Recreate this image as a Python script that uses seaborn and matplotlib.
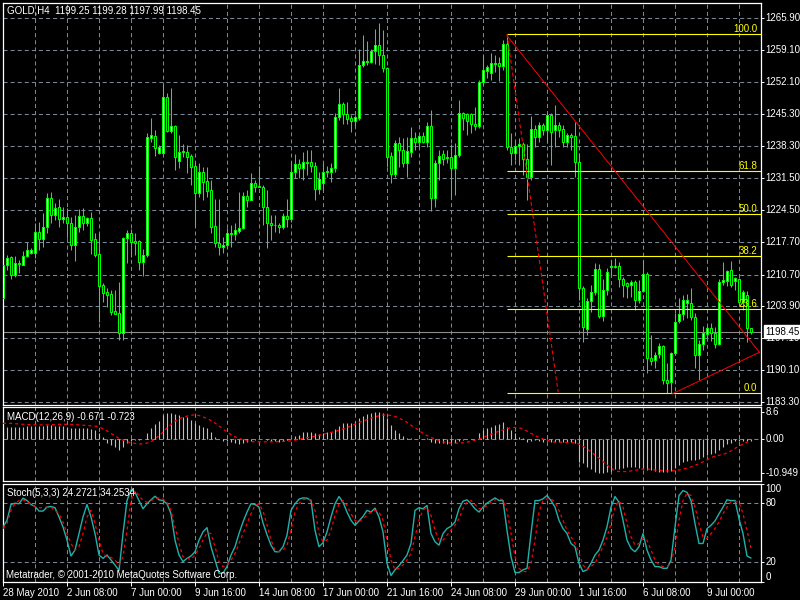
import matplotlib
matplotlib.use('Agg')
import matplotlib.pyplot as plt
import matplotlib.transforms as mtransforms
import numpy as np
import pandas as pd
import seaborn as sns

# --------------------------------------------------------------------------
# data (GOLD H4, one value per bar)
# --------------------------------------------------------------------------
opens = [
    1205.7, 1212.8, 1214.5, 1210.6, 1213.2, 1212.8, 1214.7, 1215.3, 1215.3, 1219.9,
    1218.4, 1220.9, 1227.2, 1223.5, 1225.2, 1222.7, 1223.1, 1221.8, 1217.1, 1220.9,
    1223.3, 1221.8, 1222.9, 1218.4, 1215.1, 1208.5, 1207.0, 1206.5, 1202.9, 1202.4,
    1198.1, 1218.6, 1219.6, 1217.9, 1217.9, 1213.4, 1214.9, 1240.1, 1240.5, 1236.9,
    1236.9, 1248.9, 1241.6, 1242.7, 1235.1, 1237.1, 1237.1, 1236.2, 1234.1, 1228.3,
    1232.8, 1230.8, 1228.9, 1221.2, 1217.5, 1216.6, 1217.1, 1219.4, 1219.4, 1220.1,
    1220.7, 1227.6, 1226.7, 1230.4, 1229.5, 1229.5, 1225.2, 1221.8, 1221.4, 1221.4,
    1220.9, 1223.3, 1222.7, 1232.8, 1234.5, 1233.6, 1234.9, 1234.9, 1234.1, 1229.1,
    1230.4, 1232.8, 1232.8, 1233.6, 1244.6, 1247.4, 1245.2, 1244.4, 1243.7, 1244.4,
    1255.8, 1256.4, 1256.4, 1258.8, 1260.1, 1257.9, 1255.1, 1236.2, 1232.3, 1239.0,
    1237.5, 1234.7, 1237.1, 1240.1, 1239.2, 1240.5, 1239.2, 1242.7, 1227.2, 1234.7,
    1236.6, 1235.8, 1236.0, 1233.6, 1236.4, 1245.5, 1245.2, 1245.2, 1243.1, 1242.7,
    1252.1, 1254.5, 1254.1, 1256.0, 1256.2, 1255.6, 1260.3, 1238.2, 1236.9, 1238.4,
    1238.8, 1235.6, 1231.7, 1242.0, 1240.3, 1242.9, 1241.8, 1245.0, 1241.8, 1242.9,
    1242.0, 1239.2, 1240.7, 1240.5, 1234.9, 1207.8, 1199.0, 1205.0, 1207.0, 1211.9,
    1201.8, 1207.4, 1212.3, 1212.6, 1212.6, 1209.8, 1208.9, 1208.5, 1209.1, 1205.2,
    1207.2, 1210.8, 1192.8, 1192.3, 1193.6, 1195.3, 1188.0, 1187.6, 1193.8, 1200.7,
    1202.2, 1204.6, 1204.6, 1201.6, 1193.4, 1195.8, 1197.9, 1199.2, 1198.1, 1195.8,
    1209.1, 1209.3, 1211.7, 1209.3, 1209.8, 1204.8, 1206.3, 1199.25,
]
highs = [
    1213.4, 1214.9, 1214.7, 1214.7, 1213.8, 1215.8, 1217.7, 1216.4, 1221.8, 1222.0,
    1224.0, 1228.3, 1228.5, 1226.1, 1227.0, 1225.2, 1225.0, 1223.1, 1223.5, 1224.8,
    1225.0, 1223.1, 1224.2, 1219.6, 1219.6, 1208.9, 1207.8, 1207.4, 1207.4, 1209.1,
    1218.8, 1220.3, 1220.5, 1219.6, 1218.1, 1216.2, 1241.2, 1244.4, 1241.8, 1238.6,
    1251.7, 1249.8, 1250.8, 1242.9, 1240.7, 1238.8, 1238.6, 1236.6, 1234.9, 1234.7,
    1233.8, 1233.8, 1231.1, 1227.0, 1227.0, 1218.8, 1220.7, 1221.4, 1221.8, 1228.5,
    1228.5, 1228.9, 1232.6, 1231.0, 1234.1, 1230.0, 1228.9, 1223.5, 1223.5, 1221.8,
    1224.0, 1227.0, 1234.9, 1236.6, 1235.6, 1237.1, 1237.5, 1237.5, 1234.9, 1232.8,
    1234.7, 1234.1, 1234.7, 1245.5, 1250.8, 1247.8, 1247.8, 1245.0, 1245.0, 1259.2,
    1262.2, 1260.9, 1259.2, 1263.5, 1264.8, 1263.3, 1255.4, 1237.1, 1239.7, 1240.3,
    1240.1, 1240.3, 1242.5, 1241.4, 1240.7, 1241.4, 1243.5, 1246.1, 1235.4, 1237.5,
    1237.5, 1237.5, 1238.8, 1239.0, 1248.3, 1245.7, 1245.5, 1245.5, 1246.8, 1252.6,
    1258.0, 1255.8, 1258.4, 1258.0, 1257.5, 1261.2, 1262.5, 1241.2, 1239.7, 1240.1,
    1239.2, 1238.8, 1244.8, 1242.9, 1243.5, 1243.3, 1245.5, 1245.5, 1247.2, 1243.5,
    1242.9, 1241.2, 1241.2, 1243.5, 1236.9, 1208.3, 1205.7, 1208.5, 1213.2, 1213.0,
    1209.8, 1212.1, 1213.8, 1214.3, 1213.4, 1210.2, 1209.1, 1209.5, 1209.5, 1209.5,
    1213.8, 1211.3, 1197.7, 1194.0, 1196.0, 1195.6, 1191.7, 1194.0, 1202.4, 1205.7,
    1206.3, 1206.5, 1207.8, 1202.4, 1196.6, 1199.6, 1199.6, 1200.3, 1199.4, 1209.8,
    1213.4, 1211.7, 1213.6, 1210.2, 1210.0, 1207.4, 1207.2, 1199.28,
]
lows = [
    1202.0, 1211.7, 1209.8, 1210.2, 1211.0, 1212.8, 1214.5, 1215.1, 1214.3, 1216.0,
    1216.6, 1219.6, 1221.8, 1222.4, 1220.9, 1221.8, 1218.6, 1216.0, 1213.6, 1219.9,
    1220.3, 1221.2, 1215.1, 1214.5, 1200.5, 1204.8, 1203.7, 1202.0, 1202.2, 1196.6,
    1196.6, 1213.2, 1214.5, 1214.9, 1211.7, 1210.4, 1214.5, 1239.2, 1236.2, 1236.6,
    1236.6, 1241.4, 1241.2, 1233.2, 1233.6, 1236.0, 1232.6, 1230.0, 1220.9, 1227.4,
    1226.7, 1227.4, 1219.6, 1216.6, 1214.9, 1215.3, 1216.4, 1216.6, 1218.1, 1219.6,
    1220.5, 1225.2, 1226.7, 1228.5, 1229.5, 1221.4, 1216.4, 1218.1, 1219.9, 1219.6,
    1220.5, 1220.9, 1222.0, 1231.5, 1231.5, 1231.0, 1232.1, 1232.8, 1226.7, 1228.0,
    1228.9, 1231.7, 1230.6, 1232.8, 1244.0, 1243.1, 1243.1, 1241.4, 1242.7, 1244.0,
    1255.4, 1255.8, 1256.2, 1256.0, 1255.8, 1254.3, 1233.8, 1230.4, 1231.7, 1233.8,
    1233.8, 1231.7, 1236.0, 1237.5, 1238.2, 1239.0, 1238.2, 1224.4, 1225.2, 1231.0,
    1234.3, 1234.7, 1227.4, 1227.8, 1236.0, 1241.8, 1240.7, 1241.2, 1241.8, 1242.2,
    1251.5, 1253.0, 1252.6, 1254.3, 1252.3, 1254.7, 1237.5, 1234.3, 1235.4, 1234.3,
    1232.1, 1226.7, 1231.0, 1238.2, 1239.2, 1240.7, 1239.0, 1234.3, 1238.2, 1240.3,
    1238.2, 1238.2, 1237.5, 1231.7, 1205.2, 1196.2, 1197.7, 1202.7, 1206.3, 1201.4,
    1200.7, 1206.3, 1210.6, 1212.1, 1208.0, 1205.9, 1205.7, 1205.9, 1203.1, 1204.6,
    1207.0, 1189.5, 1191.3, 1190.6, 1192.8, 1187.2, 1185.2, 1185.2, 1193.4, 1200.3,
    1200.9, 1201.4, 1200.9, 1190.6, 1188.0, 1194.5, 1197.1, 1196.4, 1194.9, 1195.6,
    1208.5, 1208.3, 1208.0, 1207.4, 1204.1, 1203.1, 1196.2, 1197.99,
]
closes = [
    1212.8, 1214.3, 1210.6, 1213.2, 1213.0, 1214.7, 1216.0, 1216.0, 1219.9, 1218.4,
    1220.9, 1227.2, 1223.5, 1225.0, 1222.7, 1223.1, 1221.8, 1217.1, 1220.9, 1223.3,
    1221.8, 1222.9, 1218.1, 1214.9, 1208.3, 1206.7, 1206.3, 1202.7, 1202.2, 1198.1,
    1218.6, 1219.6, 1217.7, 1217.5, 1213.4, 1214.9, 1240.3, 1240.7, 1237.9, 1238.2,
    1248.9, 1241.6, 1242.7, 1236.0, 1237.1, 1237.3, 1236.0, 1233.9, 1228.3, 1232.8,
    1230.6, 1228.7, 1221.0, 1217.5, 1216.6, 1217.1, 1219.6, 1219.6, 1220.3, 1220.7,
    1227.6, 1226.7, 1230.4, 1229.5, 1229.8, 1225.2, 1221.8, 1221.4, 1221.3, 1220.9,
    1223.3, 1222.7, 1232.8, 1234.5, 1233.6, 1234.9, 1234.7, 1234.1, 1229.1, 1231.3,
    1232.8, 1233.0, 1233.6, 1244.6, 1247.4, 1245.2, 1244.2, 1243.7, 1244.6, 1255.8,
    1256.6, 1256.6, 1258.8, 1260.1, 1257.9, 1255.1, 1236.0, 1232.3, 1239.0, 1237.5,
    1234.7, 1237.3, 1240.1, 1239.2, 1240.5, 1239.2, 1242.7, 1227.2, 1234.7, 1236.2,
    1235.6, 1236.0, 1233.6, 1236.4, 1245.5, 1244.4, 1243.7, 1243.1, 1242.7, 1252.1,
    1254.7, 1255.4, 1256.2, 1256.2, 1255.6, 1260.3, 1238.2, 1236.9, 1238.4, 1238.8,
    1235.6, 1231.7, 1242.0, 1240.3, 1242.9, 1241.8, 1245.0, 1241.4, 1242.9, 1241.8,
    1239.2, 1240.7, 1240.3, 1234.9, 1207.8, 1199.4, 1205.0, 1207.0, 1211.9, 1201.8,
    1207.4, 1211.3, 1212.6, 1212.3, 1209.8, 1208.5, 1208.3, 1209.1, 1205.2, 1207.2,
    1210.8, 1192.8, 1192.1, 1193.4, 1195.3, 1188.0, 1187.4, 1193.8, 1200.5, 1202.2,
    1205.2, 1205.2, 1201.6, 1193.4, 1195.8, 1198.1, 1199.2, 1198.1, 1195.8, 1209.1,
    1209.5, 1211.5, 1208.5, 1210.0, 1204.8, 1207.0, 1199.2, 1198.45,
]

# MACD(12,26,9): main (histogram) and signal
macd_main = [
    3.6, 3.7, 3.7, 3.8, 3.9, 3.9, 4.0, 4.0, 4.1, 4.1, 4.2, 4.4, 4.4, 4.3, 4.2, 4.1, 3.9, 3.6,
    3.5, 3.5, 3.4, 3.4, 3.3, 2.9, 1.8, 0.5, -1.2, -1.9, -2.7, -3.5, -2.4, -1.4, -0.5, -0.3,
    -0.3, -0.1,
    1.8, 3.4, 4.8, 5.9, 7.7, 8.2, 8.4, 8.0, 7.7, 7.1, 6.9, 6.1, 5.2, 4.5, 3.9, 3.4, 2.3, 0.7,
    0.0, -0.5, -0.5, -0.9, -1.4, -1.7, -1.2, -0.9, -0.5, -0.3, -0.1, -0.1, -0.3,
    -0.5, -0.5, -0.9, -0.5, -0.3, 0.2, 1.0, 1.3, 2.1, 2.1,
    2.1, 1.8, 1.6, 2.0, 2.1, 2.3, 3.1, 4.1, 5.0, 5.2,
    5.2, 5.5, 6.6, 7.4, 7.9, 8.2, 8.5, 8.6, 8.2, 6.6,
    4.5, 2.9, 1.8, 1.0, 0.4, 0.2, 0.1, 0.1, 0.0, 0.2,
    -0.9, -1.4, -1.2, -1.4, -1.6, -1.4, -1.2, -0.5, -0.3, -0.1,
    -0.1, 0.0, 1.8, 2.9, 3.4, 3.9, 4.5, 4.8, 5.5, 3.9,
    2.9, 1.8, 0.7, 0.2,
    -0.9, -0.5, -0.3, -0.5, -0.9, -0.5, -0.9, -0.9, -0.9, -1.1, -1.1, -1.0, -1.2,
    -7.2, -7.8, -8.8, -9.7, -10.4, -10.95, -10.85, -10.5, -10.1, -9.7,
    -9.5, -9.3, -8.9, -8.8, -9.1, -9.4, -9.6, -9.8, -10.0, -10.2,
    -10.4, -10.5, -10.6, -10.3, -9.4, -8.3, -7.4, -7.0, -6.7, -6.7,
    -6.3, -5.6, -5.2, -4.8, -4.6, -3.5, -2.4, -1.6, -1.2, -0.8,
    -0.8, -0.6, -0.5, -0.671,
]
macd_signal = [
    5.0, 5.0, 5.0, 4.9, 4.8, 4.7, 4.6, 4.6, 4.5, 4.5, 4.5, 4.5, 4.6, 4.6, 4.7, 4.7, 4.7, 4.7,
    4.6, 4.5, 4.4, 4.3, 4.2,
    4.1, 3.9, 3.3, 2.6, 1.8, 1.0, 0.2, -0.4, -0.9, -1.2, -1.4, -1.6, -1.5, -1.3, -0.9, 0.1,
    1.0, 2.2, 3.5, 4.6, 5.7, 6.4, 7.0, 7.3, 7.6, 7.7, 7.5, 7.1, 6.5, 5.9, 5.1, 4.2, 3.1, 2.3,
    1.4, 0.7, 0.2, -0.3, -0.6, -0.8, -0.9, -0.9, -0.9, -0.9,
    -0.9, -0.9, -0.8, -0.8, -0.7, -0.6, -0.4, -0.1, 0.2, 0.4,
    0.6, 0.9, 1.2, 1.5, 1.8, 2.1, 2.4, 2.8, 3.2, 3.6,
    4.2, 4.7, 5.3, 5.7, 6.2, 6.7, 7.1, 7.4, 7.6, 7.7,
    7.5, 7.2, 6.6, 6.1, 5.3, 4.4, 3.6, 2.7, 1.8, 1.1,
    0.5, 0.0, -0.5, -0.9, -1.1, -1.3, -1.4, -1.3, -1.2, -1.0,
    -0.7, -0.4, -0.1, 0.5, 1.0, 1.5, 2.0, 2.5, 2.9, 3.3,
    3.6, 3.7, 3.6, 3.2,
    2.5, 1.8, 1.1, 0.5, 0.0, -0.4, -0.8, -1.0, -1.0, -1.1,
    -1.1, -1.2, -1.2, -1.6, -2.4, -3.1, -4.1, -5.1, -6.1, -7.2,
    -8.3, -9.3, -10.2, -10.4, -10.4, -10.4, -10.2, -10.0, -9.8, -9.6,
    -9.6, -9.7, -9.9, -10.0, -10.1, -10.2, -10.2, -10.1, -9.9, -9.6,
    -9.3, -8.9, -8.4, -7.9, -7.3, -6.6, -6.0, -5.5, -5.2, -4.9,
    -4.5, -3.8, -3.0, -2.3, -1.6, -1.0, -0.723,
]

# Stochastic(5,3,3): main and signal
stoch_main = [
    55.9, 62.6, 78.7, 80.0, 79.4, 85.1, 82.7, 78.7, 76.7, 72.0,
    72.0, 76.0, 76.7, 75.4, 66.0, 55.9, 42.5, 26.4, 32.4, 49.2,
    66.0, 78.7, 66.0, 49.2, 27.4, 24.0, 27.4, 22.3, 17.3, 11.6,
    49.2, 82.7, 93.5, 91.1, 82.7, 74.4, 79.4, 83.4, 87.1, 83.4,
    82.7, 79.4, 69.3, 42.5, 27.4, 20.7, 24.0, 26.4, 30.7, 42.5,
    50.9, 55.2, 35.8, 22.3, 8.9, 8.9, 15.6, 27.4, 35.8, 49.2,
    60.9, 71.0, 79.4, 78.7, 76.0, 60.0, 48.0, 37.4, 30.7, 30.7,
    35.8, 47.5, 72.7, 79.4, 84.1, 85.4, 85.1, 82.7, 52.5, 35.8,
    39.8, 50.9, 66.0, 79.4, 86.8, 81.0, 71.0, 62.6, 57.6, 62.0,
    66.6, 72.7, 71.0, 75.0, 66.0, 50.9, 19.0, 6.6, 12.3, 16.6,
    21.7, 27.4, 39.1, 72.7, 75.4, 74.4, 77.7, 49.2, 40.8, 37.4,
    49.2, 54.2, 56.6, 60.9, 74.4, 82.1, 83.4, 79.4, 74.4, 71.0,
    76.0, 80.0, 82.7, 85.4, 82.7, 82.7, 52.5, 25.7, 9.6, 9.6,
    12.3, 13.9, 49.2, 82.7, 82.7, 84.4, 87.8, 82.7, 76.0, 62.6,
    54.2, 49.2, 39.1, 35.8, 19.0, 10.6, 12.3, 19.0, 27.4, 32.4,
    42.5, 55.9, 76.0, 86.8, 81.0, 62.6, 42.5, 34.1, 30.7, 35.8,
    49.2, 32.4, 22.3, 15.6, 15.6, 13.9, 13.9, 22.3, 55.9, 87.8,
    92.8, 91.0, 82.7, 59.3, 39.1, 39.1, 54.2, 57.6, 62.0, 69.3,
    76.0, 83.4, 82.7, 82.7, 64.3, 49.2, 26.4, 24.2721,
]
stoch_signal = [
    54.2, 59.3, 72.7, 79.4, 82.7, 83.4, 81.0, 79.4, 76.7, 75.4,
    75.4, 76.0, 76.0, 72.7, 69.3, 60.9, 49.2, 39.1, 32.4, 35.8,
    49.2, 66.0, 72.7, 59.3, 42.5, 29.0, 25.7, 25.0, 22.3, 17.3,
    25.7, 52.5, 82.7, 92.8, 87.8, 82.7, 81.0, 82.7, 84.4, 85.4,
    84.4, 81.0, 72.7, 55.9, 39.1, 25.7, 24.0, 23.0, 27.4, 34.1,
    42.5, 49.9, 49.2, 35.8, 20.7, 15.6, 17.3, 22.3, 29.0, 39.1,
    49.2, 59.3, 69.3, 77.7, 79.4, 72.0, 58.0, 42.5, 32.4, 30.7,
    32.4, 37.4, 52.5, 71.0, 80.0, 83.7, 84.4, 83.4, 72.7, 49.2,
    40.8, 42.5, 52.5, 67.6, 79.4, 82.7, 77.7, 69.3, 62.6, 60.9,
    64.3, 67.6, 71.0, 72.7, 71.0, 62.6, 42.5, 22.3, 12.3, 14.0,
    17.3, 22.3, 29.0, 45.8, 62.6, 73.4, 75.4, 67.6, 52.5, 42.5,
    42.5, 47.5, 52.5, 57.6, 64.3, 74.4, 81.0, 82.7, 78.7, 74.4,
    74.4, 77.7, 81.0, 83.4, 84.4, 83.4, 72.7, 49.2, 25.7, 14.0,
    10.6, 10.6, 19.0, 42.5, 71.0, 82.7, 84.4, 84.4, 81.0, 72.7,
    62.6, 52.5, 45.8, 39.1, 29.0, 17.3, 12.3, 15.6, 19.0, 27.4,
    35.8, 45.8, 59.3, 76.0, 82.7, 76.0, 59.3, 45.8, 37.4, 39.1,
    44.2, 42.5, 32.4, 22.3, 17.3, 15.6, 15.6, 19.0, 35.8, 62.6,
    82.7, 90.1, 87.8, 76.0, 59.3, 45.8, 44.2, 49.2, 54.2, 60.9,
    69.3, 76.0, 81.7, 81.7, 81.0, 69.3, 52.5, 34.2534,
]

# fibonacci retracement levels and the drawn trend lines
fib_labels = ['100.0', '61.8', '50.0', '38.2', '23.6', '0.0']
fib_prices = [1262.5, 1232.9, 1223.8, 1214.7, 1203.4, 1185.2]
fib_start_bar = 126
fib_diag_x = [126, 138.8]
fib_diag_y = [1262.5, 1185.4]
trend_down_x = [126.1, 189.1]
trend_down_y = [1262.0, 1194.0]
trend_up_x = [167.2, 189.1]
trend_up_y = [1185.0, 1194.0]

bid_price = 1198.45
price_ticks = [1265.90, 1259.10, 1252.10, 1245.30, 1238.30, 1231.50, 1224.50,
               1217.70, 1210.70, 1203.90, 1197.10, 1190.10, 1183.30]
time_tick_bars = [0, 16, 32, 48, 64, 80, 96, 112, 128, 144, 160, 176]
time_tick_text = ['28 May 2010', '2 Jun 08:00', '7 Jun 00:00', '9 Jun 16:00',
                  '14 Jun 08:00', '17 Jun 00:00', '21 Jun 16:00', '24 Jun 08:00',
                  '29 Jun 00:00', '1 Jul 16:00', '6 Jul 08:00', '9 Jul 00:00']

# --------------------------------------------------------------------------
# style
# --------------------------------------------------------------------------
sns.set_theme(style='dark', rc={'axes.facecolor': 'black', 'figure.facecolor': 'black',
                                'axes.edgecolor': 'white', 'text.color': 'white'})
plt.rcParams['font.family'] = ['Liberation Sans', 'DejaVu Sans']
plt.rcParams['lines.scale_dashes'] = False

GRID = '#778899'
LIME = '#00ff00'
W, H = 800, 600
FS = 7

df = pd.DataFrame({'bar': np.arange(len(closes)), 'open': opens, 'high': highs,
                   'low': lows, 'close': closes, 'macd': macd_main, 'signal': macd_signal,
                   'k': stoch_main, 'd': stoch_signal})

fig = plt.figure(figsize=(8, 6), dpi=100, facecolor='black')


def panel(y0, y1):
    ax = fig.add_axes([2.5 / W, 1 - y1 / H, 758 / W, (y1 - y0) / H])
    ax.set_facecolor('black')
    for s in ax.spines.values():
        s.set_color('white')
        s.set_linewidth(0.9)
    ax.set_xlim(-0.125, 189.375)
    ax.grid(False)
    for b in range(8, 189, 8):
        ax.axvline(b, color=GRID, lw=0.75, dashes=(2.9, 2.2), zorder=0)
    ax.tick_params(axis='x', bottom=False, labelbottom=False)
    ax.yaxis.tick_right()
    ax.tick_params(axis='y', colors='white', length=2.2, width=0.7, labelright=False)
    ax.set_xlabel('')
    ax.set_ylabel('')
    return ax


def right_text(ax, y, s, va='center', color='white', **kw):
    tr = mtransforms.blended_transform_factory(ax.transAxes, ax.transData)
    ax.text(1 + 5 / 758, y, s, transform=tr, ha='left', va=va, color=color,
            fontsize=FS, clip_on=False, **kw)


# --------------------------------------------------------------------------
# price panel
# --------------------------------------------------------------------------
ax = panel(2.5, 404.5)
ax.set_ylim(1182.76, 1269.23)
ax.set_yticks(price_ticks)
for p in price_ticks:
    ax.axhline(p, color=GRID, lw=0.75, dashes=(2.9, 2.2), zorder=0)
    right_text(ax, p, '%.2f' % p)

bull = df['close'] >= df['open']
ax.vlines(df['bar'], df['low'], df['high'], color=LIME, lw=0.75, zorder=2)
body_bottom = np.minimum(df['open'], df['close'])
body_h = np.maximum((df['close'] - df['open']).abs(), 0.06)
ax.bar(df['bar'], body_h, bottom=body_bottom, width=0.5,
       color=np.where(bull, 'white', 'black'), edgecolor=LIME, linewidth=0.75, zorder=3)

ax.axhline(bid_price, color='#8c8c8c', lw=0.8, zorder=1)
ax.hlines(fib_prices, fib_start_bar, 189.375, color='#ffff00', lw=0.8, zorder=4)
for lab, p in zip(fib_labels, fib_prices):
    ax.text(188.6, p, lab, ha='right', va='bottom', color='#ffff00', fontsize=FS, zorder=5)
ax.plot(fib_diag_x, fib_diag_y, color='red', lw=0.8, dashes=(2.9, 1.8), zorder=4)
ax.plot(trend_down_x, trend_down_y, color='red', lw=0.7, zorder=4)
ax.plot(trend_up_x, trend_up_y, color='red', lw=0.7, zorder=4)

tr = mtransforms.blended_transform_factory(ax.transAxes, ax.transData)
ax.text(1 + 5 / 758, bid_price, '%.2f' % bid_price, transform=tr, ha='left', va='center',
        color='black', fontsize=FS, clip_on=False, zorder=10,
        bbox=dict(facecolor='white', edgecolor='white', pad=1.2))

# --------------------------------------------------------------------------
# MACD panel
# --------------------------------------------------------------------------
axm = panel(407, 480.5)
axm.set_ylim(-13.26, 10.22)
axm.set_yticks([8.6, 0.0, -10.949])
axm.axhline(0, color=GRID, lw=0.75, dashes=(2.9, 2.2), zorder=0)
axm.vlines(df['bar'], 0, df['macd'], color='#c0c0c0', lw=0.8, zorder=2)
sns.lineplot(data=df, x='bar', y='signal', ax=axm, color='red', lw=0.9,
             linestyle=(0, (2.2, 2.2)), legend=False, zorder=3)
axm.set_xlabel('')
axm.set_ylabel('')
right_text(axm, 8.6, '8.6')
right_text(axm, 0.0, '0.00')
right_text(axm, -10.949, '-10.949')

# --------------------------------------------------------------------------
# Stochastic panel
# --------------------------------------------------------------------------
axs = panel(483.5, 582)
axs.set_ylim(0, 100)
axs.set_yticks([100, 80, 20, 0])
for lvl in (80, 20):
    axs.axhline(lvl, color=GRID, lw=0.75, dashes=(2.9, 2.2), zorder=0)
sns.lineplot(data=df, x='bar', y='k', ax=axs, color='#20b2aa', lw=1.0, legend=False, zorder=3)
sns.lineplot(data=df, x='bar', y='d', ax=axs, color='red', lw=0.9,
             linestyle=(0, (2.2, 2.2)), legend=False, zorder=4)
axs.set_xlabel('')
axs.set_ylabel('')
right_text(axs, 100, '100', va='top')
right_text(axs, 80, '80')
right_text(axs, 20, '20')
right_text(axs, 0, '0', va='bottom')

axs.set_xticks(time_tick_bars)
axs.set_xticklabels(time_tick_text, ha='left')
axs.tick_params(axis='x', bottom=True, labelbottom=True, colors='white', length=3,
                width=0.7, labelsize=FS, pad=1.5, direction='out')

# --------------------------------------------------------------------------
# captions
# --------------------------------------------------------------------------
fig.text(7 / W, 1 - 10.7 / H, 'GOLD,H4  1199.25 1199.28 1197.99 1198.45',
         color='white', fontsize=FS, ha='left', va='center')
fig.text(7 / W, 1 - 416.7 / H, 'MACD(12,26,9) -0.671 -0.723',
         color='white', fontsize=FS, ha='left', va='center')
fig.text(7 / W, 1 - 492.7 / H, 'Stoch(5,3,3) 24.2721 34.2534',
         color='white', fontsize=FS, ha='left', va='center')
fig.text(6 / W, 1 - 575 / H, 'Metatrader, \u00a9 2001-2010 MetaQuotes Software Corp.',
         color='white', fontsize=FS, ha='left', va='center')

fig.savefig('out.png', dpi=100, facecolor='black')
